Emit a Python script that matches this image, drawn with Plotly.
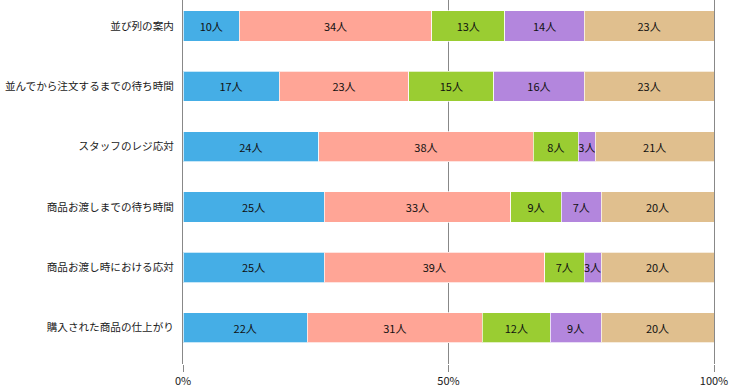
import plotly.graph_objects as go

categories = ["並び列の案内", "並んでから注文するまでの待ち時間", "スタッフのレジ応対",
              "商品お渡しまでの待ち時間", "商品お渡し時における応対", "購入された商品の仕上がり"]
series_names = ["s1", "s2", "s3", "s4", "s5"]
s1 = [10, 17, 24, 25, 25, 22]
s2 = [34, 23, 38, 33, 39, 31]
s3 = [13, 15, 8, 9, 7, 12]
s4 = [14, 16, 3, 7, 3, 9]
s5 = [23, 23, 21, 20, 20, 20]
colors = ["#45AEE6", "#FFA596", "#9ACD32", "#B386DD", "#E0BF8E"]
x_ticks = [0, 50, 100]
x_tick_labels = ["0%", "50%", "100%"]

series = [s1, s2, s3, s4, s5]
totals = [sum(v) for v in zip(*series)]
ypos = list(range(len(categories)))

fig = go.Figure()
for name, vals, col in zip(series_names, series, colors):
    pct = [v / t * 100 for v, t in zip(vals, totals)]
    fig.add_trace(go.Bar(
        y=ypos, x=pct, orientation="h", name=name,
        marker=dict(color=col, line=dict(color="rgba(255,255,255,0.7)", width=1)),
        width=0.5,
        customdata=vals,
        texttemplate="%{customdata}人", textposition="inside", insidetextanchor="middle",
        textangle=0,
        textfont=dict(size=11, color="#111111", family="Noto Sans CJK JP"),
        constraintext="none",
        cliponaxis=False,
        hoverinfo="skip",
    ))

fig.update_layout(
    barmode="stack", showlegend=False,
    width=731, height=392,
    margin=dict(l=183, r=17, t=0, b=28, autoexpand=False),
    paper_bgcolor="white", plot_bgcolor="white",
    font=dict(family="Noto Sans CJK JP", size=11, color="#1a1a1a"),
)
fig.update_xaxes(range=[0, 100], tickvals=x_ticks, ticktext=x_tick_labels,
                 showgrid=True, gridcolor="#888888", gridwidth=1, zeroline=False,
                 showline=False, ticks="outside", ticklen=7, tickcolor="#888888",
                 automargin=False, tickfont=dict(size=11, color="#1a1a1a"))
fig.update_yaxes(range=[5.6, -0.43], tickvals=ypos, ticktext=categories,
                 showgrid=False, zeroline=False, showline=True, mirror=True,
                 linecolor="#888888", linewidth=1, ticks="", ticklabelstandoff=6,
                 automargin=False, tickfont=dict(size=10.6, color="#1a1a1a"))

fig.write_html("out.html", config={"displayModeBar": False},
               post_script="document.body.style.margin='0';document.body.style.overflow='hidden';")
